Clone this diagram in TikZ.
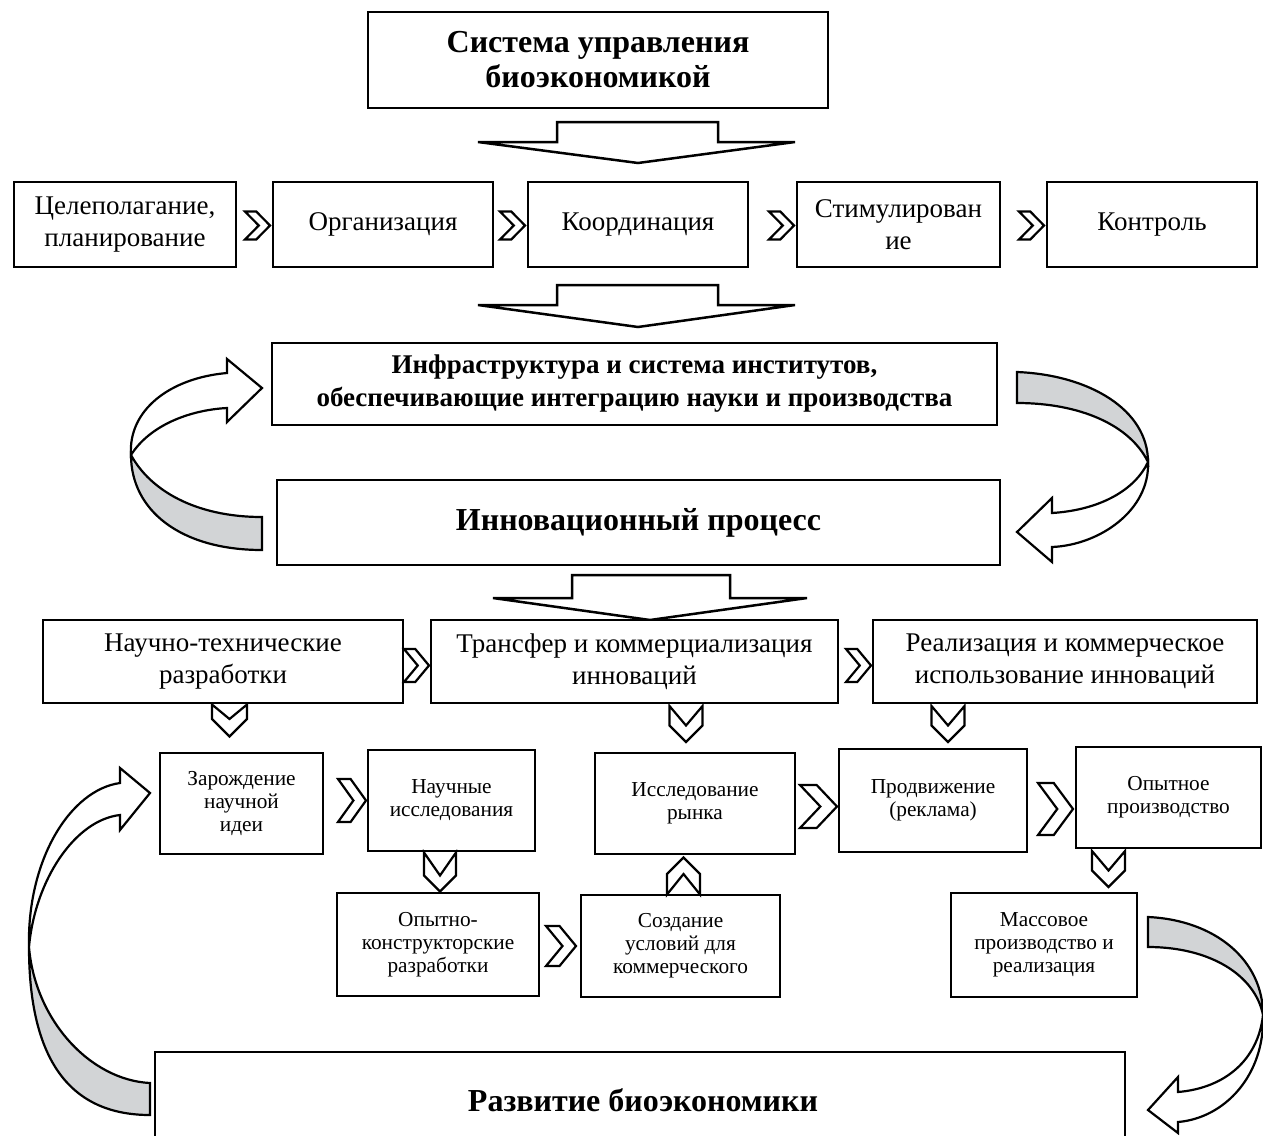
\documentclass[tikz,border=0pt]{standalone}
\usepackage{fontspec}
\setmainfont{Liberation Serif}
\usetikzlibrary{calc}
\definecolor{bandgrey}{RGB}{210,212,214}
\tikzset{
  box/.style={draw, line width=2.5pt, align=center, inner sep=0pt, outer sep=0pt, fill=white},
  ftitle/.style={font=\fontsize{32}{35}\selectfont\bfseries},
  fmid/.style={font=\fontsize{27}{33}\selectfont\bfseries},
  fone/.style={font=\fontsize{27}{32}\selectfont},
  fsmall/.style={font=\fontsize{21.3}{23}\selectfont},
  chev/.style={draw, line width=2.2pt, fill=white, line join=miter},
  blockarrow/.style={draw, line width=2.5pt, fill=white, line join=miter},
  bandarrow/.style={draw, line width=2.2pt, line join=miter},
  pics/rchev/.style 2 args={code={
    \draw[chev] ({-#1/2},{-#2/2}) -- ({-#1/2+0.45*#1},{-#2/2}) -- ({#1/2},0)
      -- ({-#1/2+0.45*#1},{#2/2}) -- ({-#1/2},{#2/2}) -- ({#1/2-0.45*#1},0) -- cycle;}},
  pics/dchev/.style 2 args={code={
    \draw[chev] ({-#1/2},0) -- ({-#1/2},{#2-#1/2}) -- (0,#2) -- ({#1/2},{#2-#1/2})
      -- ({#1/2},0) -- (0,{#2-#1/2}) -- cycle;}},
  pics/uchev/.style 2 args={code={
    \draw[chev] ({-#1/2},0) -- ({-#1/2},{-#2+#1/2}) -- (0,-#2) -- ({#1/2},{-#2+#1/2})
      -- ({#1/2},0) -- (0,{-#2+#1/2}) -- cycle;}}
}
\begin{document}
\begin{tikzpicture}[x=1pt,y=-1pt]
\useasboundingbox (0,0) rectangle (1263,1135);

% top
\node[box, ftitle, minimum width=460pt, minimum height=96pt] (top) at (598,60) {Система управления\\биоэкономикой};

% block arrow 1
\draw[blockarrow] (557,142) -- (557,122) -- (718,122) -- (718,142) -- (795,142) -- (638,163) -- (478,142) -- cycle;

% row 1
\node[box, fone, minimum width=222pt, minimum height=85pt] (r1a) at (125,224.5) {Целеполагание,\\планирование};
\node[box, fone, minimum width=220pt, minimum height=85pt] (r1b) at (383,224.5) {Организация};
\node[box, fone, minimum width=220pt, minimum height=85pt] (r1c) at (638,224.5) {Координация};
\node[box, fone, minimum width=203pt, minimum height=85pt] (r1d) at (898.5,224.5) {Стимулирован\\ие};
\node[box, fone, minimum width=210pt, minimum height=85pt] (r1e) at (1152,224.5) {Контроль};
\pic at ($(r1b.west)+(-15.5,1)$) {rchev={25}{28}};
\pic at ($(r1c.west)+(-15.5,1)$) {rchev={25}{28}};
\pic at ($(r1d.west)+(-15.5,1)$) {rchev={25}{28}};
\pic at ($(r1e.west)+(-15.5,1)$) {rchev={25}{28}};

% block arrow 2
\draw[blockarrow] (557,305) -- (557,285) -- (718,285) -- (718,305) -- (795,305) -- (638,327) -- (478,305) -- cycle;

% infra and innovation process
\node[box, fmid, minimum width=725pt, minimum height=82pt] (infra) at (634.5,384) {Инфраструктура и система институтов,\\обеспечивающие интеграцию науки и производства};
\node[box, ftitle, minimum width=723pt, minimum height=85pt] (innov) at (638.5,522.5) {Инновационный процесс};

% curved arrow A (left, up to infra)
\draw[bandarrow, fill=bandgrey] (262,550) .. controls (180,550) and (131,510) .. (131,455)
  .. controls (150,490) and (195,517) .. (262,517) -- cycle;
\draw[bandarrow, fill=white] (131,455) .. controls (128,410) and (170,378) .. (227,373)
  -- (227,359) -- (262,388) -- (227,422) -- (227,408)
  .. controls (190,410) and (150,425) .. (131,455) -- cycle;

% curved arrow B (right, down to innov)
\draw[bandarrow, fill=bandgrey] (1017,372) .. controls (1090,375) and (1148,410) .. (1148,462)
  .. controls (1130,425) and (1080,403) .. (1017,403) -- cycle;
\draw[bandarrow, fill=white] (1148,462) .. controls (1150,510) and (1100,545) .. (1052,547)
  -- (1052,562) -- (1017,532) -- (1052,498) -- (1052,513)
  .. controls (1100,510) and (1135,490) .. (1148,462) -- cycle;

% block arrow 3
\draw[blockarrow] (572,598) -- (572,575) -- (730,575) -- (730,598) -- (807,598) -- (650,620) -- (493,598) -- cycle;

% row 3
\node[box, fone, minimum width=360pt, minimum height=83pt] (r3a) at (223,661.5) {Научно-технические\\разработки};
\node[box, fone, minimum width=407pt, minimum height=83pt] (r3b) at (634.5,661.5) {Трансфер и коммерциализация\\инноваций};
\node[box, fone, minimum width=384pt, minimum height=83pt] (r3c) at (1065,661.5) {Реализация и коммерческое\\использование инноваций};
\pic at ($(r3b.west)+(-14.5,4)$) {rchev={25}{33}};
\pic at ($(r3c.west)+(-14.5,4)$) {rchev={25}{33}};
\pic at ($(r3a.south)+(6.5,1.5)$) {dchev={35}{32}};
\pic at ($(r3b.south)+(51.5,3)$) {dchev={33}{36}};
\pic at ($(r3c.south)+(-117,3)$) {dchev={33}{36}};

% row 4
\node[box, fsmall, minimum width=163pt, minimum height=101pt] (r4a) at (241.5,803.5) {Зарождение\\научной\\идеи};
\node[box, fsmall, minimum width=167pt, minimum height=101pt] (r4b) at (451.5,800.5) {Научные\\исследования};
\node[box, fsmall, minimum width=200pt, minimum height=101pt] (r4c) at (695,803.5) {Исследование\\рынка};
\node[box, fsmall, minimum width=188pt, minimum height=103pt] (r4d) at (933,800.5) {Продвижение\\(реклама)};
\node[box, fsmall, minimum width=185pt, minimum height=101pt] (r4e) at (1168.5,797.5) {Опытное\\производство};
\pic at ($(r4b.west)+(-16,0)$) {rchev={28}{43}};
\pic at ($(r4d.west)+(-20.5,6)$) {rchev={37}{43}};
\pic at ($(r4e.west)+(-20.5,11.5)$) {rchev={35}{52}};
\pic at ($(r4b.south)+(-11.5,1.5)$) {dchev={32}{39}};
\pic at ($(r4e.south)+(-60,3)$) {dchev={33}{36}};

% row 5
\node[box, fsmall, minimum width=202pt, minimum height=103pt] (r5a) at (438,944.5) {Опытно-\\конструкторские\\разработки};
\node[box, fsmall, minimum width=199pt, minimum height=102pt] (r5b) at (680.5,946) {Создание\\условий для\\коммерческого};
\node[box, fsmall, minimum width=186pt, minimum height=104pt] (r5c) at (1044,945) {Массовое\\производство и\\реализация};
\pic at ($(r5b.west)+(-20,0)$) {rchev={30}{40}};
\pic at ($(r5b.north)+(3,-0.5)$) {uchev={33}{37}};

% bottom
\node[box, ftitle, minimum width=970pt, minimum height=95pt, anchor=north west] (bottom) at (155,1052) {};
\node[ftitle] (bottomtext) at (643,1100) {Развитие биоэкономики};

% curved arrow C (bottom left, up to r4a)
\draw[bandarrow, fill=bandgrey] (150,1115) .. controls (70,1115) and (29,1060) .. (29,947)
  .. controls (35,1020) and (90,1080) .. (150,1083) -- cycle;
\draw[bandarrow, fill=white] (29,947) .. controls (27,860) and (70,790) .. (120,783)
  -- (120,768) -- (150,793) -- (120,830) -- (120,815)
  .. controls (75,820) and (35,880) .. (29,947) -- cycle;

% curved arrow D (right, down to bottom)
\draw[bandarrow, fill=bandgrey] (1148,917) .. controls (1215,920) and (1263,960) .. (1263,1015)
  .. controls (1255,975) and (1210,947) .. (1148,947) -- cycle;
\draw[bandarrow, fill=white] (1263,1015) .. controls (1265,1075) and (1225,1118) .. (1178,1122)
  -- (1178,1133) -- (1148,1110) -- (1178,1077) -- (1178,1092)
  .. controls (1225,1088) and (1258,1060) .. (1263,1015) -- cycle;
\end{tikzpicture}
\end{document}
